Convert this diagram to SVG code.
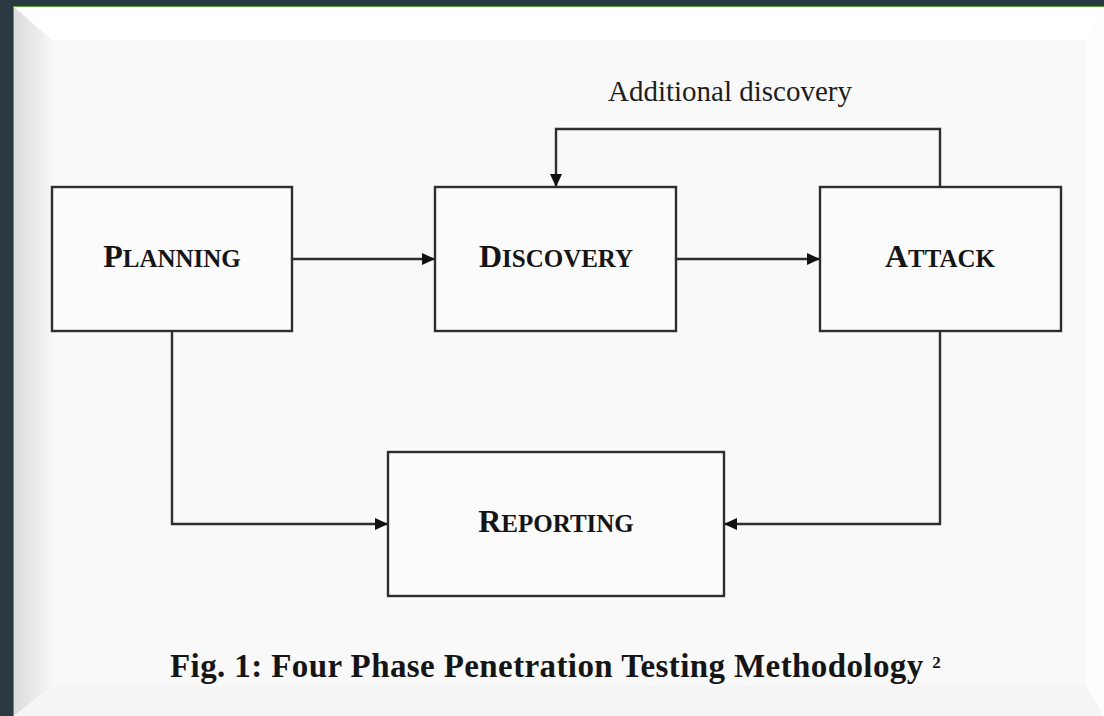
<svg xmlns="http://www.w3.org/2000/svg" width="1104" height="716" viewBox="0 0 1104 716">
<style>
.box{fill:#fbfbfb;stroke:#2e2e2e;stroke-width:2.4}
.conn{fill:none;stroke:#2e2e2e;stroke-width:2.4}
.lbl{font-family:"Liberation Serif","Times New Roman",serif;font-weight:bold;fill:#151515;text-anchor:middle}
.big{font-size:32px}
.sc{font-size:25px}
.note{font-family:"Liberation Serif","Times New Roman",serif;font-size:29px;fill:#1e1e1e;text-anchor:middle}
.cap{font-family:"Liberation Serif","Times New Roman",serif;font-weight:bold;font-size:33px;fill:#151515;letter-spacing:0.4px}
</style>
<defs>
<marker id="arr" markerUnits="userSpaceOnUse" markerWidth="14" markerHeight="12" refX="13" refY="6" orient="auto">
<path d="M0,0 L13,6 L0,12 z" fill="#111"/>
</marker>
<linearGradient id="lb" x1="0" y1="0" x2="1" y2="0">
<stop offset="0" stop-color="#dcdcdc"/>
<stop offset="1" stop-color="#f6f6f6"/>
</linearGradient>
</defs>
<!-- frame -->
<rect x="0" y="0" width="1104" height="716" fill="#2b3a42"/>
<rect x="13" y="6" width="1091" height="710" fill="#5c9e3a"/>
<rect x="14" y="7" width="1090" height="709" fill="#ffffff"/>
<polygon points="14,7 52,40 52,686 14,716" fill="url(#lb)"/>
<polygon points="14,716 52,686 1086,686 1104,716" fill="#f5f5f5"/>
<polygon points="1086,40 1104,7 1104,716 1086,686" fill="#fdfdfd"/>
<rect x="52" y="40" width="1034" height="646" fill="#f9f9f9"/>

<g id="connectors">
<line class="conn" x1="292" y1="259" x2="435" y2="259" marker-end="url(#arr)"/>
<line class="conn" x1="676" y1="259" x2="820" y2="259" marker-end="url(#arr)"/>
<polyline class="conn" points="940,187 940,129 556,129 556,187" marker-end="url(#arr)"/>
<polyline class="conn" points="172,331 172,524 388,524" marker-end="url(#arr)"/>
<polyline class="conn" points="940,331 940,524 724,524" marker-end="url(#arr)"/>
<text class="note" x="730" y="101">Additional discovery</text>
</g>

<g id="planning">
<rect class="box" x="52" y="187" width="240" height="144"/>
<text class="lbl" x="172" y="267"><tspan class="big">P</tspan><tspan class="sc">LANNING</tspan></text>
</g>
<g id="discovery">
<rect class="box" x="435" y="187" width="241" height="144"/>
<text class="lbl" x="556" y="267"><tspan class="big">D</tspan><tspan class="sc">ISCOVERY</tspan></text>
</g>
<g id="attack">
<rect class="box" x="820" y="187" width="241" height="144"/>
<text class="lbl" x="940" y="267"><tspan class="big">A</tspan><tspan class="sc">TTACK</tspan></text>
</g>
<g id="reporting">
<rect class="box" x="388" y="452" width="336" height="144"/>
<text class="lbl" x="556" y="532"><tspan class="big">R</tspan><tspan class="sc">EPORTING</tspan></text>
</g>

<text class="cap" x="170" y="677">Fig. 1: Four Phase Penetration Testing Methodology <tspan font-size="17" dy="-9">2</tspan></text>
</svg>
